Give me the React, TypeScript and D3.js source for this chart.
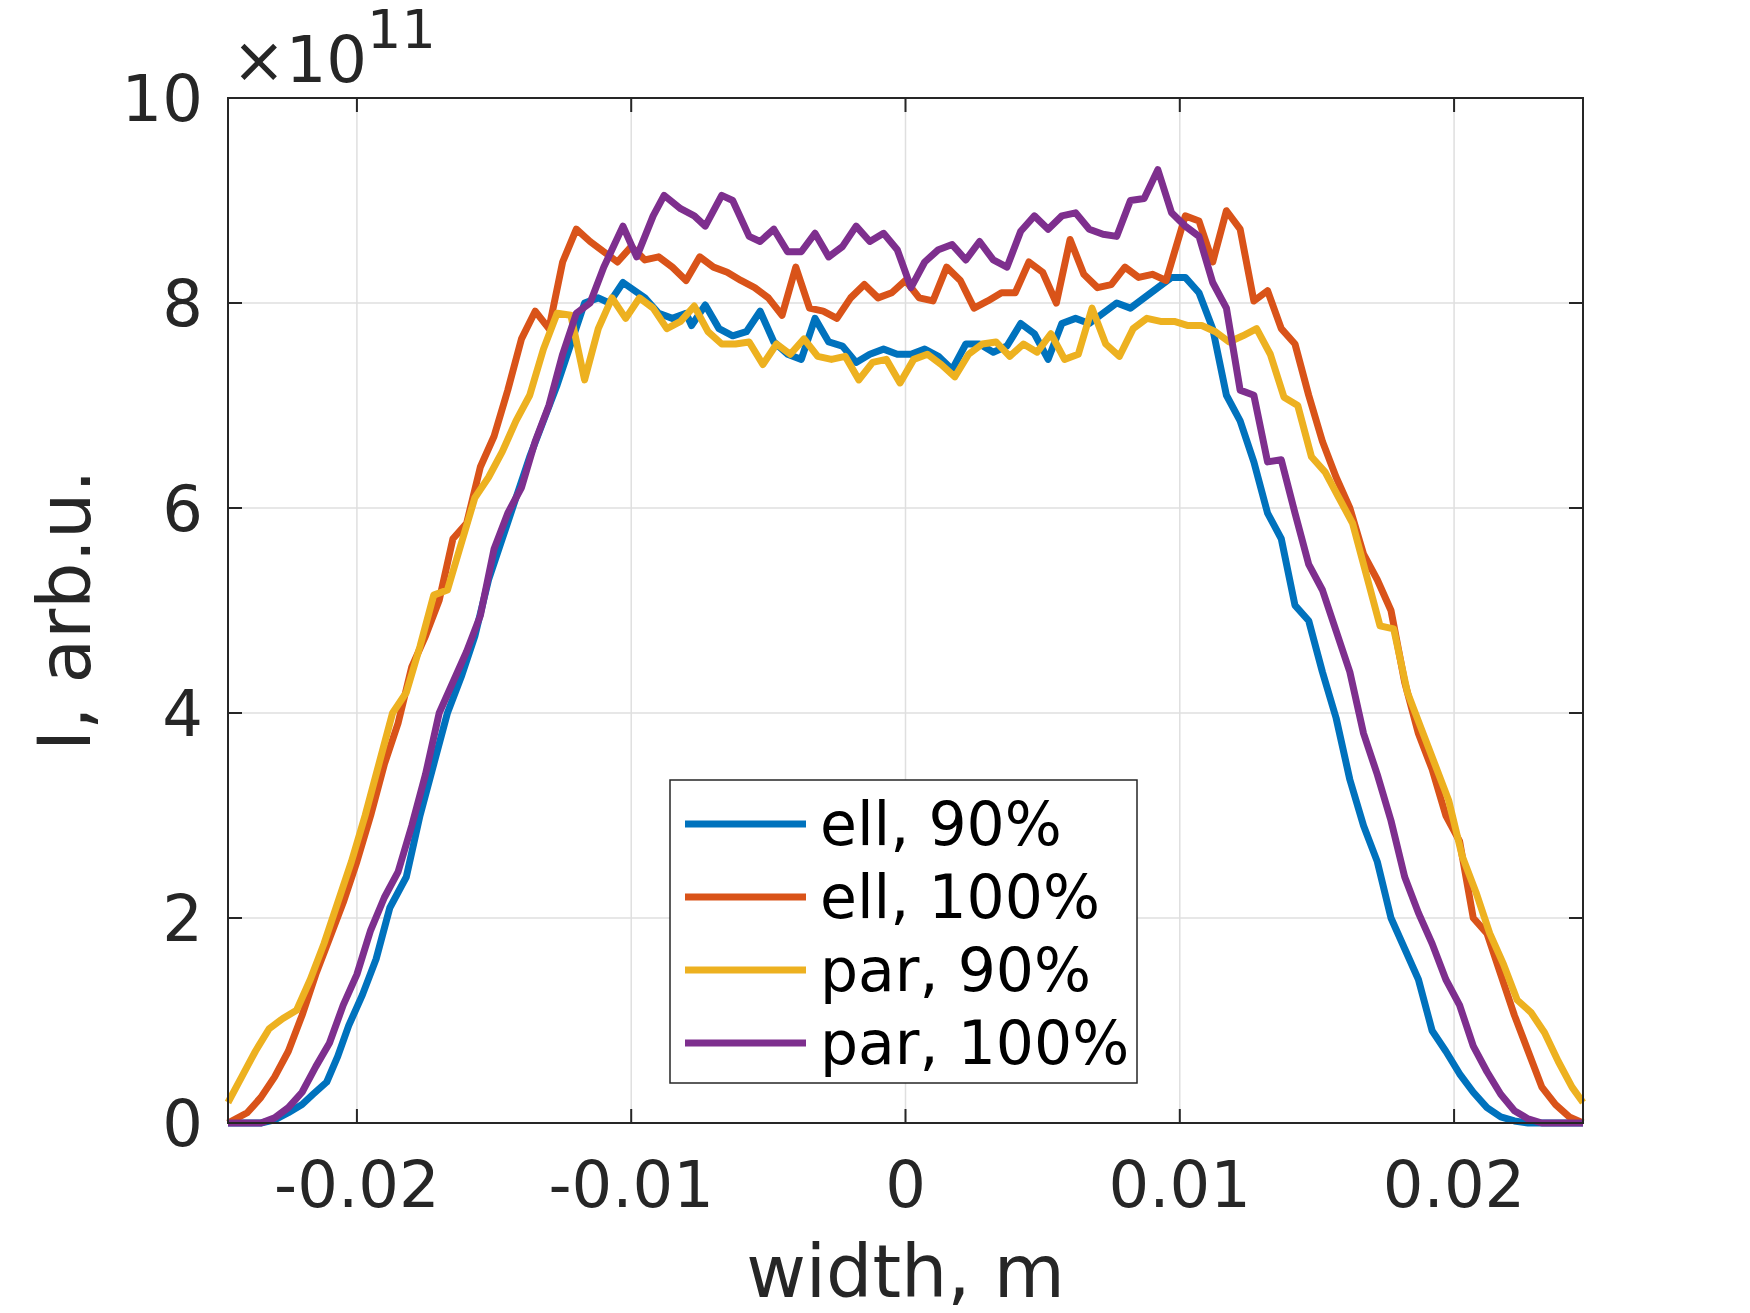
import * as d3 from "d3";

const seriesNames = ["ell, 90%", "ell, 100%", "par, 90%", "par, 100%"];
const colors = ["#0072BD", "#D95319", "#EDB120", "#7E2F8E"];

const ell90: [number, number][] = [
  [-0.0247, 0], [-0.0235, 0], [-0.023, 0.03], [-0.0225, 0.1], [-0.022, 0.18], [-0.0216, 0.28], [-0.0211, 0.4],
  [-0.0207, 0.65], [-0.0203, 0.95], [-0.0198, 1.25], [-0.0193, 1.6], [-0.0188, 2.1], [-0.0182, 2.4], [-0.0177, 3.0],
  [-0.0172, 3.5], [-0.0167, 4.0], [-0.0162, 4.35], [-0.0157, 4.75], [-0.0152, 5.3], [-0.0147, 5.7], [-0.0142, 6.1],
  [-0.0137, 6.5], [-0.0132, 6.85], [-0.0127, 7.2], [-0.0122, 7.6], [-0.0117, 8.0], [-0.0112, 8.05], [-0.0108, 8.0],
  [-0.0103, 8.2], [-0.0095, 8.05], [-0.009, 7.9], [-0.0085, 7.85], [-0.008, 7.9], [-0.0078, 7.78], [-0.0073, 7.98],
  [-0.0068, 7.75], [-0.0063, 7.68], [-0.0058, 7.72], [-0.0053, 7.92], [-0.0048, 7.62], [-0.0043, 7.5], [-0.0038, 7.45],
  [-0.0033, 7.85], [-0.0028, 7.62], [-0.0023, 7.58], [-0.0018, 7.42], [-0.0013, 7.5], [-0.0008, 7.55], [-0.0003, 7.5],
  [0.0002, 7.5], [0.0007, 7.55], [0.0012, 7.48], [0.0017, 7.35], [0.0022, 7.6], [0.0027, 7.6], [0.0032, 7.52],
  [0.0037, 7.58], [0.0042, 7.8], [0.0047, 7.7], [0.0052, 7.45], [0.0057, 7.8], [0.0062, 7.85], [0.0067, 7.8],
  [0.0072, 7.9], [0.0077, 8.0], [0.0082, 7.95], [0.0087, 8.05], [0.0092, 8.15], [0.0097, 8.25], [0.0102, 8.25],
  [0.0107, 8.1], [0.0112, 7.75], [0.0117, 7.1], [0.0122, 6.85], [0.0127, 6.45], [0.0132, 5.95], [0.0137, 5.7],
  [0.0142, 5.05], [0.0147, 4.9], [0.0152, 4.4], [0.0157, 3.95], [0.0162, 3.35], [0.0167, 2.9], [0.0172, 2.55],
  [0.0177, 2.0], [0.0182, 1.7], [0.0187, 1.4], [0.0192, 0.9], [0.0197, 0.7], [0.0202, 0.48], [0.0207, 0.3],
  [0.0212, 0.15], [0.0217, 0.06], [0.0222, 0.02], [0.0227, 0], [0.0247, 0],
];

const ell100: [number, number][] = [
  [-0.0247, 0], [-0.024, 0.1], [-0.0235, 0.25], [-0.023, 0.45], [-0.0225, 0.7], [-0.022, 1.05], [-0.0215, 1.45],
  [-0.021, 1.8], [-0.0205, 2.15], [-0.02, 2.55], [-0.0195, 3.0], [-0.019, 3.5], [-0.0185, 3.9], [-0.018, 4.45],
  [-0.0175, 4.75], [-0.017, 5.1], [-0.0165, 5.7], [-0.016, 5.85], [-0.0155, 6.4], [-0.015, 6.7], [-0.0145, 7.15],
  [-0.014, 7.65], [-0.0135, 7.92], [-0.013, 7.75], [-0.0125, 8.4], [-0.012, 8.72], [-0.0115, 8.6], [-0.011, 8.5],
  [-0.0105, 8.4], [-0.01, 8.55], [-0.0095, 8.42], [-0.009, 8.45], [-0.0085, 8.35], [-0.008, 8.22], [-0.0075, 8.45],
  [-0.007, 8.35], [-0.0065, 8.3], [-0.006, 8.22], [-0.0055, 8.15], [-0.005, 8.05], [-0.0045, 7.88], [-0.004, 8.35],
  [-0.0035, 7.95], [-0.003, 7.92], [-0.0025, 7.85], [-0.002, 8.05], [-0.0015, 8.18], [-0.001, 8.05], [-0.0005, 8.1],
  [0, 8.22], [0.0005, 8.05], [0.001, 8.02], [0.0015, 8.35], [0.002, 8.22], [0.0025, 7.95], [0.003, 8.02],
  [0.0035, 8.1], [0.004, 8.1], [0.0045, 8.4], [0.005, 8.3], [0.0055, 8.0], [0.006, 8.62], [0.0065, 8.28],
  [0.007, 8.15], [0.0075, 8.18], [0.008, 8.35], [0.0085, 8.25], [0.009, 8.28], [0.0095, 8.22], [0.0102, 8.85],
  [0.0107, 8.8], [0.0112, 8.4], [0.0117, 8.9], [0.0122, 8.72], [0.0127, 8.02], [0.0132, 8.12], [0.0137, 7.75],
  [0.0142, 7.6], [0.0147, 7.1], [0.0152, 6.65], [0.0157, 6.3], [0.0162, 6.0], [0.0167, 5.55], [0.0172, 5.3],
  [0.0177, 5.0], [0.0182, 4.3], [0.0187, 3.8], [0.0192, 3.45], [0.0197, 3.0], [0.0202, 2.75], [0.0207, 2.0],
  [0.0212, 1.85], [0.0217, 1.45], [0.0222, 1.05], [0.0227, 0.7], [0.0232, 0.35], [0.0237, 0.18], [0.0242, 0.06],
  [0.0247, 0],
];

const par90: [number, number][] = [
  [-0.0247, 0.2], [-0.0242, 0.45], [-0.0237, 0.7], [-0.0232, 0.92], [-0.0227, 1.02], [-0.0222, 1.1], [-0.0217, 1.4],
  [-0.0212, 1.75], [-0.0207, 2.15], [-0.0202, 2.55], [-0.0197, 3.0], [-0.0192, 3.5], [-0.0187, 4.0], [-0.0182, 4.2],
  [-0.0177, 4.65], [-0.0172, 5.15], [-0.0167, 5.2], [-0.0162, 5.65], [-0.0157, 6.1], [-0.0152, 6.3], [-0.0147, 6.55],
  [-0.0142, 6.85], [-0.0137, 7.1], [-0.0132, 7.55], [-0.0127, 7.9], [-0.0122, 7.88], [-0.0117, 7.25], [-0.0112, 7.75],
  [-0.0107, 8.05], [-0.0102, 7.85], [-0.0097, 8.05], [-0.0092, 7.95], [-0.0087, 7.75], [-0.0082, 7.82], [-0.0077, 7.97],
  [-0.0072, 7.72], [-0.0067, 7.6], [-0.0062, 7.6], [-0.0057, 7.62], [-0.0052, 7.4], [-0.0047, 7.6], [-0.0042, 7.5],
  [-0.0037, 7.65], [-0.0032, 7.48], [-0.0027, 7.45], [-0.0022, 7.48], [-0.0017, 7.25], [-0.0012, 7.42], [-0.0007, 7.45],
  [-0.0002, 7.22], [0.0003, 7.45], [0.0008, 7.5], [0.0013, 7.4], [0.0018, 7.28], [0.0023, 7.5], [0.0028, 7.6],
  [0.0033, 7.62], [0.0038, 7.48], [0.0043, 7.6], [0.0048, 7.52], [0.0053, 7.7], [0.0058, 7.45], [0.0063, 7.5],
  [0.0068, 7.95], [0.0073, 7.6], [0.0078, 7.48], [0.0083, 7.75], [0.0088, 7.85], [0.0093, 7.82], [0.0098, 7.82],
  [0.0103, 7.78], [0.0108, 7.78], [0.0113, 7.72], [0.0118, 7.62], [0.0123, 7.68], [0.0128, 7.75], [0.0133, 7.5],
  [0.0138, 7.08], [0.0143, 7.0], [0.0148, 6.5], [0.0153, 6.35], [0.0158, 6.1], [0.0163, 5.85], [0.0168, 5.35],
  [0.0173, 4.85], [0.0178, 4.82], [0.0183, 4.2], [0.0188, 3.85], [0.0193, 3.5], [0.0198, 3.15], [0.0203, 2.6],
  [0.0208, 2.25], [0.0213, 1.85], [0.0218, 1.55], [0.0223, 1.2], [0.0228, 1.08], [0.0233, 0.88], [0.0238, 0.6],
  [0.0243, 0.35], [0.0247, 0.2],
];

const par100: [number, number][] = [
  [-0.0247, 0], [-0.0235, 0], [-0.023, 0.05], [-0.0225, 0.15], [-0.022, 0.3], [-0.0215, 0.55], [-0.021, 0.78],
  [-0.0205, 1.15], [-0.02, 1.45], [-0.0195, 1.88], [-0.019, 2.2], [-0.0185, 2.45], [-0.018, 2.9], [-0.0175, 3.4],
  [-0.017, 4.0], [-0.0165, 4.3], [-0.016, 4.6], [-0.0155, 4.95], [-0.015, 5.6], [-0.0145, 5.95], [-0.014, 6.2],
  [-0.0135, 6.65], [-0.013, 7.0], [-0.0125, 7.5], [-0.012, 7.9], [-0.0115, 8.0], [-0.011, 8.35], [-0.0103, 8.75],
  [-0.0098, 8.45], [-0.0092, 8.85], [-0.0088, 9.05], [-0.0082, 8.92], [-0.0077, 8.85], [-0.0073, 8.75], [-0.0067, 9.05],
  [-0.0063, 9.0], [-0.0057, 8.65], [-0.0053, 8.6], [-0.0048, 8.72], [-0.0043, 8.5], [-0.0038, 8.5], [-0.0033, 8.68],
  [-0.0028, 8.45], [-0.0023, 8.55], [-0.0018, 8.75], [-0.0013, 8.6], [-0.0008, 8.68], [-0.0003, 8.52], [0.0002, 8.15],
  [0.0007, 8.4], [0.0012, 8.52], [0.0017, 8.57], [0.0022, 8.42], [0.0027, 8.6], [0.0032, 8.42], [0.0037, 8.35],
  [0.0042, 8.7], [0.0047, 8.85], [0.0052, 8.72], [0.0057, 8.85], [0.0062, 8.88], [0.0067, 8.72], [0.0072, 8.67],
  [0.0077, 8.65], [0.0082, 9.0], [0.0087, 9.02], [0.0092, 9.3], [0.0097, 8.88], [0.0102, 8.75], [0.0107, 8.65],
  [0.0112, 8.2], [0.0117, 7.95], [0.0122, 7.15], [0.0127, 7.1], [0.0132, 6.45], [0.0137, 6.47], [0.0142, 5.95],
  [0.0147, 5.45], [0.0152, 5.2], [0.0157, 4.8], [0.0162, 4.4], [0.0167, 3.8], [0.0172, 3.4], [0.0177, 2.95],
  [0.0182, 2.4], [0.0187, 2.05], [0.0192, 1.75], [0.0197, 1.4], [0.0202, 1.15], [0.0207, 0.75], [0.0212, 0.5],
  [0.0217, 0.28], [0.0222, 0.12], [0.0227, 0.04], [0.0232, 0], [0.0247, 0],
];

const allSeries = [ell90, ell100, par90, par100];
const xTicks = [-0.02, -0.01, 0, 0.01, 0.02];
const xTickLabels = ["-0.02", "-0.01", "0", "0.01", "0.02"];
const yTicks = [0, 2, 4, 6, 8, 10];

const W = 1750;
const H = 1313;
const plot = { left: 228, right: 1583, top: 98, bottom: 1123 };
const font = "DejaVu Sans, sans-serif";
const ink = "#262626";
const lineW = 7;

export default function App() {
  const x = d3.scaleLinear().domain([-0.0247, 0.0247]).range([plot.left, plot.right]);
  const y = d3.scaleLinear().domain([0, 10]).range([plot.bottom, plot.top]);
  const line = d3
    .line<[number, number]>()
    .x((d) => x(d[0]))
    .y((d) => y(d[1]));

  const legend = { x: 670, y: 780, w: 467, h: 303 };

  return (
    <svg
      width={W}
      height={H}
      style={{ position: "absolute", left: 0, top: 0, background: "#fff" }}
      fontFamily={font}
    >
      <defs>
        <clipPath id="clip">
          <rect x={plot.left - 4} y={plot.top} width={plot.right - plot.left + 8} height={plot.bottom - plot.top + 4} />
        </clipPath>
      </defs>

      {/* grid */}
      {xTicks.map((t) => (
        <line key={"gx" + t} x1={x(t)} x2={x(t)} y1={plot.top} y2={plot.bottom} stroke="#dfdfdf" strokeWidth={1.5} />
      ))}
      {yTicks.map((t) => (
        <line key={"gy" + t} x1={plot.left} x2={plot.right} y1={y(t)} y2={y(t)} stroke="#dfdfdf" strokeWidth={1.5} />
      ))}

      {/* series */}
      <g clipPath="url(#clip)">
        {allSeries.map((s, i) => (
          <path key={i} d={line(s) ?? ""} fill="none" stroke={colors[i]} strokeWidth={lineW} strokeLinejoin="round" />
        ))}
      </g>

      {/* box and ticks */}
      <rect
        x={plot.left}
        y={plot.top}
        width={plot.right - plot.left}
        height={plot.bottom - plot.top}
        fill="none"
        stroke={ink}
        strokeWidth={2}
      />
      {xTicks.map((t) => (
        <g key={"tx" + t}>
          <line x1={x(t)} x2={x(t)} y1={plot.bottom} y2={plot.bottom - 14} stroke={ink} strokeWidth={2} />
          <line x1={x(t)} x2={x(t)} y1={plot.top} y2={plot.top + 14} stroke={ink} strokeWidth={2} />
        </g>
      ))}
      {yTicks.map((t) => (
        <g key={"ty" + t}>
          <line x1={plot.left} x2={plot.left + 14} y1={y(t)} y2={y(t)} stroke={ink} strokeWidth={2} />
          <line x1={plot.right} x2={plot.right - 14} y1={y(t)} y2={y(t)} stroke={ink} strokeWidth={2} />
        </g>
      ))}

      {/* tick labels */}
      {xTicks.map((t, i) => (
        <text key={"lx" + t} x={x(t)} y={1207} textAnchor="middle" fontSize={64} fill={ink}>
          {xTickLabels[i]}
        </text>
      ))}
      {yTicks.map((t) => (
        <text key={"ly" + t} x={203} y={y(t) + 23} textAnchor="end" fontSize={64} fill={ink}>
          {t}
        </text>
      ))}
      <text x={232} y={82} fontSize={64} fill={ink}>
        ×10
        <tspan dy={-34} fontSize={54}>
          11
        </tspan>
      </text>

      {/* axis labels */}
      <text x={(plot.left + plot.right) / 2} y={1297} textAnchor="middle" fontSize={73} fill={ink}>
        width, m
      </text>
      <text
        transform={`translate(90,${(plot.top + plot.bottom) / 2}) rotate(-90)`}
        textAnchor="middle"
        fontSize={73}
        fill={ink}
      >
        I, arb.u.
      </text>

      {/* legend */}
      <rect x={legend.x} y={legend.y} width={legend.w} height={legend.h} fill="#fff" stroke={ink} strokeWidth={1.5} />
      {seriesNames.map((n, i) => {
        const ly = 824 + i * 73;
        return (
          <g key={n}>
            <line x1={685} x2={806} y1={ly} y2={ly} stroke={colors[i]} strokeWidth={lineW} />
            <text x={820} y={ly + 21} fontSize={60} fill="#000">
              {n}
            </text>
          </g>
        );
      })}
    </svg>
  );
}
